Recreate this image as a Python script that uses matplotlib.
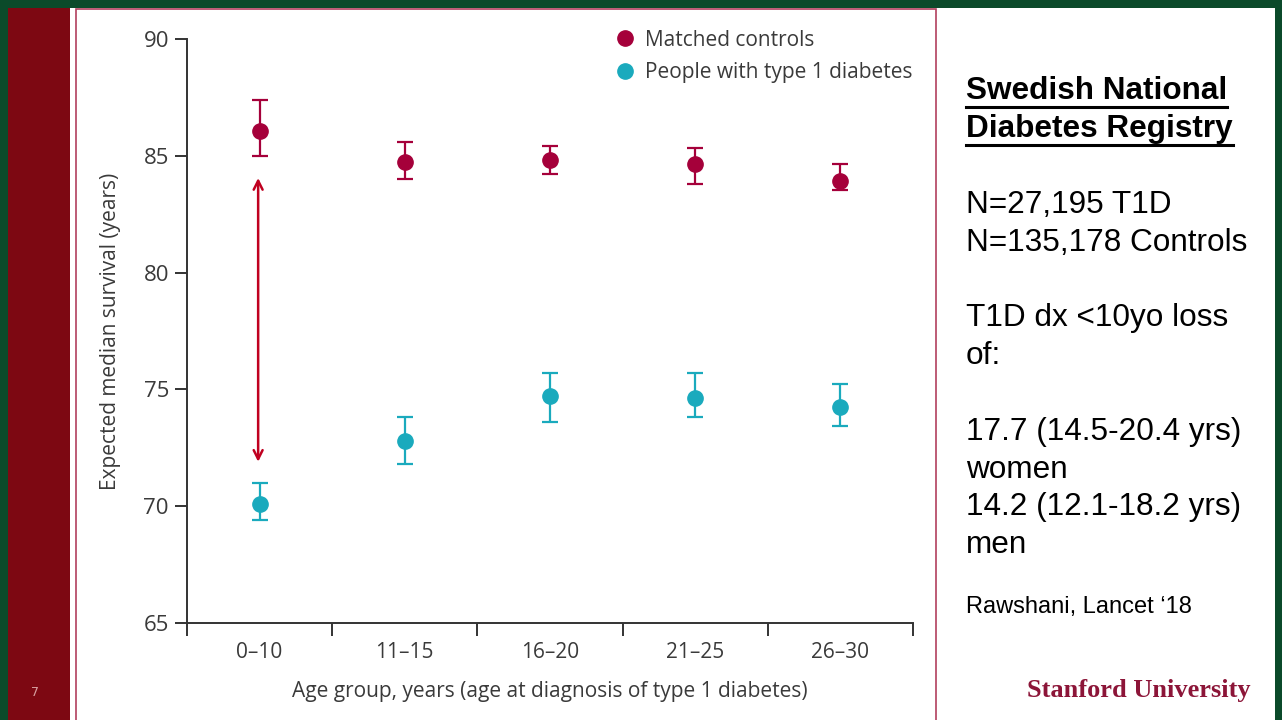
import numpy as np
import matplotlib
matplotlib.use("Agg")
import matplotlib.pyplot as plt
from matplotlib.patches import Rectangle
from matplotlib.lines import Line2D

# values (expected median survival, years)
groups = ["0–10", "11–15", "16–20", "21–25", "26–30"]
ctrl_mid = [86.05, 84.75, 84.8, 84.65, 83.9]
ctrl_lo = [85.0, 84.0, 84.2, 83.8, 83.55]
ctrl_hi = [87.4, 85.6, 85.4, 85.35, 84.65]
t1d_mid = [70.1, 72.8, 74.7, 74.65, 74.25]
t1d_lo = [69.4, 71.8, 73.6, 73.8, 73.45]
t1d_hi = [71.0, 73.8, 75.7, 75.7, 75.25]
yticks = [65, 70, 75, 80, 85, 90]

side_lines = ["N=27,195 T1D", "N=135,178 Controls", "",
              "T1D dx <10yo loss", "of:", "",
              "17.7 (14.5-20.4 yrs)", "women", "14.2 (12.1-18.2 yrs)", "men"]

W, H = 1282, 720
c_ctrl = "#a5003a"
c_t1d = "#1aaabd"
c_txt = "#3a3a3a"
lancet_font = ["Open Sans", "DejaVu Sans"]

fig = plt.figure(figsize=(W / 100, H / 100), dpi=100, facecolor="#0b4a2a")


def px(x, y):
    return x / W, 1 - y / H


def rect(x0, y0, x1, y1, **kw):
    (a, b), (c, d) = px(x0, y1), px(x1, y0)
    fig.patches.append(Rectangle((a, b), c - a, d - b, transform=fig.transFigure,
                                 zorder=-5, **kw))


# slide background
rect(8, 8, 1275, 720, facecolor="white", edgecolor="none")
rect(8, 8, 70, 720, facecolor="#7d0812", edgecolor="none")
rect(76, 9, 936, 722, facecolor="white", edgecolor="#b2405e", linewidth=1.2)
fig.text(*px(35, 692), "7", color="#d8a0a0", fontsize=9, ha="center", va="center")

# chart
l, b = px(187, 623)
r, t = px(913, 39)
ax = fig.add_axes([l, b, r - l, t - b])
ax.set_facecolor("none")
x = np.arange(len(groups))

ax.errorbar(x, ctrl_mid, yerr=[np.subtract(ctrl_mid, ctrl_lo), np.subtract(ctrl_hi, ctrl_mid)],
            fmt="o", color=c_ctrl, ms=11, elinewidth=1.6, capsize=5.5, capthick=1.6,
            label="Matched controls", clip_on=False)
ax.errorbar(x, t1d_mid, yerr=[np.subtract(t1d_mid, t1d_lo), np.subtract(t1d_hi, t1d_mid)],
            fmt="o", color=c_t1d, ms=11, elinewidth=1.6, capsize=5.5, capthick=1.6,
            label="People with type 1 diabetes", clip_on=False)

# double arrow between the two youngest-group estimates
ax.annotate("", xy=(x[0] - 0.01, t1d_hi[0] + 0.9), xytext=(x[0] - 0.01, ctrl_lo[0] - 0.95),
            arrowprops=dict(arrowstyle="<->", color="#c00020", lw=1.8, mutation_scale=16,
                            shrinkA=0, shrinkB=0))

ax.set_xlim(-0.5, 4.5)
ax.set_ylim(65, 90)
for s in ["top", "right"]:
    ax.spines[s].set_visible(False)
for s in ["left", "bottom"]:
    ax.spines[s].set_color("#333333")
    ax.spines[s].set_linewidth(1.4)

ax.set_yticks(yticks)
ax.tick_params(axis="y", length=9, width=1.4, color="#333333", labelsize=16,
               labelcolor=c_txt, pad=4)
ax.set_xticks(np.arange(-0.5, 5, 1.0))
ax.set_xticklabels([])
ax.set_xticks(x, minor=True)
ax.set_xticklabels(groups, minor=True)
ax.tick_params(axis="x", which="major", length=9, width=1.4, color="#333333")
ax.tick_params(axis="x", which="minor", length=0, labelsize=15, labelcolor=c_txt, pad=14)
for lab in ax.get_yticklabels() + ax.get_xticklabels(minor=True):
    lab.set_family(lancet_font)

ax.set_xlabel("Age group, years (age at diagnosis of type 1 diabetes)", fontsize=15,
              color=c_txt, family=lancet_font, labelpad=13)
ax.set_ylabel("Expected median survival (years)", fontsize=15, color=c_txt,
              family=lancet_font, labelpad=16)

h, lb = ax.get_legend_handles_labels()
h = [Line2D([], [], marker="o", ls="none", color=c, ms=11) for c in (c_ctrl, c_t1d)]
leg = ax.legend(h, lb, loc="upper right", bbox_to_anchor=(1.0, 1.016), frameon=False,
                prop={"family": lancet_font, "size": 15}, handletextpad=0.4,
                handlelength=1.2, labelspacing=0.55, borderaxespad=0, borderpad=0)
for tx in leg.get_texts():
    tx.set_color(c_txt)

# side panel text
head = []
for i, s in enumerate(["Swedish National", "Diabetes Registry"]):
    head.append(fig.text(*px(966, 91 + 38 * i), s, fontsize=22.7, fontweight="bold",
                         family="Liberation Sans", color="black", va="center"))
for i, s in enumerate(side_lines):
    if s:
        fig.text(*px(966, 205 + 37.8 * i), s, fontsize=22.7, family="Liberation Sans",
                 color="black", va="center")
fig.text(*px(966, 607), "Rawshani, Lancet \u201818", fontsize=17, family="Liberation Sans",
         color="black", va="center")
fig.text(*px(1251, 691), "Stanford University", fontsize=19, family="Liberation Serif",
         fontweight="bold", color="#8c1538", ha="right", va="center")

fig.canvas.draw()
rnd = fig.canvas.get_renderer()
for tx in head:
    bb = tx.get_window_extent(rnd)
    yy = (bb.y0 - 1) / H
    fig.lines.append(Line2D([bb.x0 / W, bb.x1 / W], [yy, yy], transform=fig.transFigure,
                            color="black", lw=2.2))

fig.savefig("out.png", dpi=100, facecolor=fig.get_facecolor())
